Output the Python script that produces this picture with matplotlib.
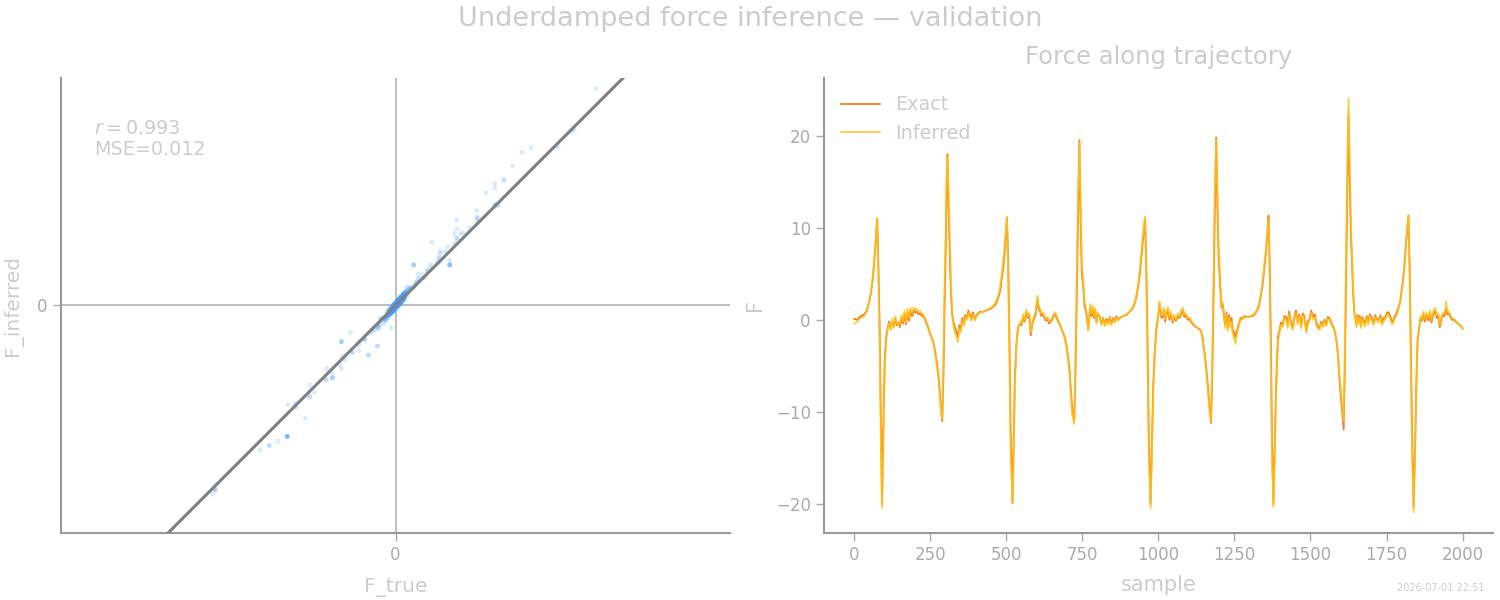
import matplotlib
matplotlib.use("Agg")
import matplotlib.pyplot as plt
import numpy as np

# ---------------- data ----------------
sample_idx = [
    0, 10, 20, 30, 40, 50, 55, 61, 66, 70,
    75, 79, 83, 87, 91, 95, 100, 105, 110, 114,
    120, 125, 130, 135, 140, 145, 150, 155, 160, 165,
    170, 175, 180, 185, 190, 195, 200, 205, 210, 215,
    220, 225, 230, 236, 242, 250, 259, 266, 272, 277,
    281, 285, 289, 293, 297, 300, 303, 306, 310, 314,
    318, 322,
    325, 330, 335, 341, 345, 350, 355, 360, 365, 370,
    375, 380, 385, 390, 396, 402, 408, 413, 418, 425,
    432, 440, 448, 456, 463, 470, 476, 481, 486, 490,
    494, 498, 502,
    506, 510, 514, 520, 524, 528, 533, 537, 540, 545,
    550, 555, 560, 566, 570, 575, 580, 585, 590, 596,
    602, 606, 610, 615, 620, 625, 630, 635, 640, 645,
    650, 655, 661, 665, 670, 675, 680, 686, 692, 698,
    703, 708, 712, 716, 723, 727, 731, 735, 740,
    744, 748, 752, 757, 761, 765, 769, 773, 776, 780,
    784, 788, 792, 796, 800, 807, 812, 818, 824, 829,
    835, 840, 845, 851, 856, 862, 867, 873, 878, 884,
    890, 895, 900, 906, 912, 917, 922, 927, 933, 938,
    944, 950, 956,
    960, 964, 968, 974, 978, 983, 988, 993, 999, 1003,
    1007, 1010, 1014, 1018, 1022, 1026, 1031, 1036, 1041, 1047,
    1052, 1058, 1064, 1070, 1075, 1080, 1085, 1090, 1096, 1102,
    1108, 1114, 1119, 1124, 1130, 1135, 1140, 1145, 1151, 1156,
    1162, 1167, 1173, 1177, 1181, 1185, 1190,
    1194, 1198, 1201, 1205, 1208, 1212, 1216, 1220, 1224, 1228,
    1232, 1236, 1240, 1244, 1249, 1253, 1258, 1262, 1266, 1270,
    1275, 1280, 1286, 1292, 1298, 1304, 1310, 1316, 1322, 1329,
    1336, 1343, 1348, 1354, 1358, 1362,
    1366, 1370, 1373, 1378, 1382, 1387, 1393, 1398, 1403, 1409,
    1414, 1420, 1425, 1430, 1436, 1442, 1447, 1452, 1458, 1463,
    1469, 1475, 1480, 1486, 1491, 1497, 1502, 1508, 1514, 1519,
    1525, 1530, 1535, 1541, 1546, 1552, 1557, 1562, 1567, 1572,
    1576, 1582, 1587, 1591, 1594, 1598, 1603, 1609, 1613, 1617,
    1621, 1625,
    1629, 1633, 1636, 1640, 1644, 1647, 1651, 1655, 1658, 1662,
    1666, 1670, 1675, 1680, 1685, 1690, 1695, 1702, 1708, 1713,
    1718, 1724, 1730, 1735, 1741, 1746, 1752, 1757, 1762, 1768,
    1773, 1778, 1784, 1789, 1795, 1800, 1806, 1811, 1816, 1822,
    1826, 1830, 1834, 1839, 1843, 1848, 1852, 1857, 1862, 1866,
    1871, 1876, 1881, 1888, 1893, 1898, 1904, 1910, 1915, 1920,
    1925, 1931, 1936, 1941, 1946, 1950, 1955, 1960, 1965, 1972,
    1980, 1988, 1995, 2000,
]

f_exact = [
    0.1, 0.0, 0.4, 0.5, 0.9, 2.1, 3.0, 4.6, 6.5, 8.2,
    11.0, 6.0, -0.5, -10.0, -20.0, -12.0, -4.1, -1.8, -0.8, -0.2,
    -0.9, -0.2, -0.7, 0.1, -0.6, -0.3, -0.8, 0.2, -0.4, 0.6,
    -0.5, 0.8, -0.1, 0.9, 0.4, 1.0, 0.8, 0.9, 0.6, 0.7,
    0.5, 0.4, 0.2, -0.3, -0.8, -1.6, -2.3, -3.5, -4.8, -6.2,
    -7.7, -9.5, -11.0, -6.0, 2.0, 6.8, 13.0, 18.0, 12.0, 6.8,
    2.5, 0.5,
    -0.1, -0.8, -1.2, -1.9, -0.6, -1.0, 0.2, -0.4, 0.5, 0.2,
    1.0, 0.6, 0.1, 0.8, 0.1, 0.5, 0.7, 0.9, 0.8, 0.9,
    1.0, 1.1, 1.2, 1.4, 1.6, 2.1, 2.7, 3.5, 4.8, 5.8,
    7.2, 9.0, 11.0,
    6.0, -2.0, -12.0, -19.9, -13.0, -6.0, -2.6, -1.2, -0.7, -0.4,
    -0.6, 0.3, -0.2, 0.8, 0.2, 0.5, -1.7, -0.5, 0.0, 0.6,
    2.3, 1.2, 1.0, 0.4, 0.6, 0.2, -0.1, 0.1, -0.4, -0.2,
    0.0, 0.4, 0.6, 0.2, -0.2, -0.5, -0.9, -1.4, -1.9, -2.9,
    -4.1, -5.6, -7.7, -9.5, -11.0, -6.0, 2.0, 10.0, 19.5,
    11.0, 4.9, 3.9, 1.5, 1.0, 0.2, -1.0, 0.3, 1.3, 0.4,
    1.1, 0.2, 1.0, -0.2, 0.6, 0.3, -0.4, 0.2, -0.5, 0.1,
    -0.3, 0.3, -0.4, 0.2, -0.2, 0.4, 0.0, 0.2, 0.3, 0.4,
    0.5, 0.5, 0.7, 0.9, 1.1, 1.4, 1.8, 2.4, 3.5, 4.8,
    6.8, 9.0, 11.0,
    6.0, -2.0, -12.0, -20.0, -14.0, -7.0, -3.4, -1.0, 0.3, 1.7,
    0.8, 0.2, 0.3, 0.9, -0.2, 0.6, 1.0, 0.0, 0.6, -0.3,
    0.2, -0.1, 0.4, 0.2, 0.7, 1.0, 0.3, 0.5, 0.0, 0.1,
    -0.3, -0.5, -0.7, -0.8, -0.9, -1.0, -1.2, -2.0, -3.4, -4.8,
    -7.0, -9.0, -11.2, -6.0, 2.0, 11.0, 19.8,
    12.0, 6.5, 5.0, 2.5, 1.3, 1.6, 0.2, -0.5, 0.8, -0.8,
    0.5, -0.3, 0.2, -1.0, -1.4, -1.9, -1.2, -0.7, -0.3, 0.2,
    0.1, 0.3, 0.4, 0.3, 0.3, 0.4, 0.4, 0.6, 0.9, 1.3,
    2.4, 3.9, 5.5, 7.5, 9.2, 11.3,
    6.0, -3.0, -12.0, -20.0, -14.0, -7.0, -1.9, -1.2, -0.3, -0.5,
    0.4, 0.3, -0.5, 0.9, -0.3, -0.8, 0.3, 1.0, -0.2, 0.6,
    -0.6, 0.7, 0.3, -1.2, -0.2, 0.1, 1.0, 0.3, 0.6, -0.3,
    -0.8, -0.9, -0.2, -0.6, 0.0, -0.5, 0.3, 0.2, -0.2, -0.6,
    -0.8, -1.6, -2.6, -4.0, -5.9, -7.6, -9.5, -11.9, -5.0, 4.0,
    14.0, 22.2,
    15.0, 9.0, 6.8, 3.0, 0.8, 0.3, -0.5, 0.5, -0.2, 0.4,
    -0.6, 0.3, -0.1, -0.4, 0.4, -0.2, 0.6, 0.2, -0.3, 0.5,
    0.1, 0.0, 0.5, -0.3, 0.2, 0.3, 0.8, 0.8, 0.4, -0.2,
    0.0, 0.4, 0.8, 1.3, 2.0, 3.2, 4.8, 6.8, 9.0, 11.3,
    6.0, -3.0, -12.0, -20.3, -15.0, -7.0, -2.3, -1.0, 0.2, -0.1,
    0.6, -0.2, 0.5, -0.1, 0.7, -0.3, 0.6, 1.0, 0.2, 0.4,
    -0.8, 0.1, 0.5, 0.4, 1.2, 0.6, 0.7, 0.3, 0.0, 0.0,
    -0.3, -0.5, -0.7, -0.9,
]

f_inferred = [
    -0.4, -0.2, 0.2, 0.3, 0.8, 2.2, 3.1, 4.8, 6.8, 8.6,
    11.0, 5.0, -2.5, -12.5, -20.4, -14.5, -5.0, -2.2, -1.0, -0.4,
    -1.1, 0.1, -0.9, 0.4, -0.4, -0.6, -0.5, 0.5, -0.2, 1.0,
    -0.3, 1.2, 0.2, 1.3, 0.7, 1.3, 1.1, 1.2, 0.9, 1.0,
    0.8, 0.6, 0.4, -0.1, -0.7, -1.5, -2.4, -3.7, -5.2, -6.6,
    -8.2, -10.0, -10.8, -4.0, 4.5, 9.5, 15.5, 17.6, 13.8, 8.5,
    3.5, 0.8,
    -0.5, -1.3, -1.8, -2.4, -0.9, -1.4, 0.0, -0.7, 0.3, 0.0,
    0.8, 0.3, -0.1, 0.5, -0.1, 0.4, 0.6, 0.8, 0.8, 0.9,
    1.0, 1.1, 1.3, 1.5, 1.8, 2.3, 3.0, 4.0, 5.4, 6.5,
    8.0, 9.8, 11.2,
    4.5, -4.5, -14.5, -19.8, -15.0, -7.0, -2.9, -1.4, -0.9, -0.2,
    -0.4, 0.6, 0.0, 1.1, 0.4, 0.7, -1.4, -0.3, 0.3, 0.9,
    2.6, 1.6, 1.3, 0.7, 0.8, 0.4, 0.1, 0.3, -0.2, 0.0,
    0.2, 0.6, 0.8, 0.4, 0.0, -0.4, -0.8, -1.4, -2.0, -3.1,
    -4.4, -6.0, -8.2, -10.2, -11.3, -4.0, 4.5, 12.5, 19.3,
    13.0, 6.0, 4.5, 2.0, 1.4, 0.5, -1.2, 0.6, 1.7, 0.7,
    1.5, 0.4, 1.3, -0.4, 0.8, 0.4, -0.6, 0.1, -0.7, -0.1,
    -0.5, 0.2, -0.6, 0.0, -0.3, 0.3, -0.1, 0.2, 0.3, 0.4,
    0.5, 0.5, 0.7, 0.9, 1.2, 1.5, 1.9, 2.6, 3.8, 5.2,
    7.4, 9.6, 11.2,
    4.5, -4.5, -14.5, -20.5, -15.5, -8.0, -3.8, -1.2, 0.1, 2.0,
    1.2, 0.5, 0.6, 1.3, 0.1, 0.9, 1.4, 0.3, 0.9, -0.1,
    0.5, 0.1, 0.7, 0.4, 1.0, 1.3, 0.6, 0.7, 0.2, 0.3,
    -0.1, -0.4, -0.6, -0.8, -0.9, -1.1, -1.3, -2.2, -3.7, -5.2,
    -7.5, -9.6, -11.0, -4.0, 4.5, 13.5, 19.5,
    14.0, 8.0, 5.8, 3.0, 1.6, 1.9, 0.0, -0.9, 0.6, -1.2,
    0.2, -0.8, -0.2, -1.6, -2.0, -2.6, -1.6, -1.0, -0.5, 0.0,
    0.0, 0.2, 0.3, 0.3, 0.3, 0.4, 0.5, 0.7, 1.0, 1.5,
    2.6, 4.2, 6.0, 8.0, 9.6, 11.1,
    4.5, -5.5, -14.5, -20.3, -15.5, -8.0, -2.4, -1.5, -0.6, -0.8,
    0.2, 0.0, -0.9, 0.6, -0.6, -1.1, 0.0, 0.7, -0.5, 0.4,
    -0.9, 0.5, 0.0, -1.4, -0.5, -0.1, 0.8, 0.0, 0.3, -0.6,
    -1.0, -1.1, -0.4, -0.8, -0.2, -0.7, 0.1, 0.0, -0.4, -0.7,
    -0.9, -1.7, -2.7, -4.0, -5.6, -7.0, -8.8, -11.0, -3.0, 7.0,
    17.0, 24.0,
    17.5, 10.5, 7.5, 3.5, 1.0, 0.2, -0.8, 0.3, -0.5, 0.2,
    -0.9, 0.1, -0.4, -0.7, 0.2, -0.5, 0.4, -0.1, -0.6, 0.3,
    -0.2, -0.3, 0.3, -0.6, -0.1, 0.0, 0.6, 0.5, 0.1, -0.5,
    -0.3, 0.2, 0.6, 1.1, 1.9, 3.1, 4.8, 6.9, 9.2, 11.2,
    4.5, -5.5, -14.5, -20.9, -16.0, -8.0, -2.7, -1.2, 0.4, 0.1,
    0.9, 0.1, 0.8, 0.2, 1.0, 0.0, 0.9, 1.3, 0.5, 0.7,
    -0.5, 0.4, 0.8, 0.7, 2.0, 0.9, 0.9, 0.5, 0.2, 0.1,
    -0.2, -0.5, -0.7, -1.0,
]

stat_r = "0.993"
stat_mse = "0.012"
x_ticks_traj = [0, 250, 500, 750, 1000, 1250, 1500, 1750, 2000]
y_ticks_traj = [-20, -10, 0, 10, 20]

# ---------------- styling ----------------
TXT = "#cccccc"
TICK = "#aaaaaa"
SPINE = "#999999"
C_EXACT = "#f77f1a"
C_INF = "#ffc21a"
C_SCAT = "#3d9bff"

fig = plt.figure(figsize=(15, 6), dpi=100)
fig.patch.set_facecolor("white")

ax1 = fig.add_axes([0.0407, 0.1117, 0.446, 0.7583])
ax2 = fig.add_axes([0.5493, 0.1117, 0.446, 0.7583])

for ax in (ax1, ax2):
    for s in ("top", "right"):
        ax.spines[s].set_visible(False)
    for s in ("left", "bottom"):
        ax.spines[s].set_color(SPINE)
        ax.spines[s].set_linewidth(1.5)
    ax.tick_params(colors=TICK, labelcolor=TICK, labelsize=12, length=6, width=1)

# ---- left: scatter ----
ft = np.array(f_exact)
fi = np.array(f_inferred)
M = 1.05 * max(np.abs(ft).max(), np.abs(fi).max())
ax1.axhline(0, color="#b3b3b3", lw=1.2, zorder=1)
ax1.axvline(0, color="#b3b3b3", lw=1.2, zorder=1)
ax1.scatter(ft, fi, s=12, color=C_SCAT, alpha=0.2, edgecolors="none", zorder=2)
ax1.set_xlim(-M, M)
ax1.set_ylim(-M, M)
ax1.set_aspect("equal", adjustable="datalim")
ax1.axline((0, 0), (1, 1), color="#808080", lw=2.2, zorder=3)
ax1.set_xticks([0])
ax1.set_yticks([0])
ax1.set_xlabel("F_true", color=TXT, fontsize=14.5, labelpad=10)
ax1.set_ylabel("F_inferred", color=TXT, fontsize=14.5, labelpad=10)
ax1.text(0.05, 0.91, f"$r = {stat_r}$\nMSE={stat_mse}", transform=ax1.transAxes,
         ha="left", va="top", fontsize=13.8, color=TXT, linespacing=1.15)

# ---- right: trajectory ----
ax2.plot(sample_idx, f_exact, color=C_EXACT, lw=1.3, label="Exact", zorder=2)
ax2.plot(sample_idx, f_inferred, color=C_INF, lw=1.3, alpha=0.85, label="Inferred", zorder=3)
ax2.set_xticks(x_ticks_traj)
ax2.set_yticks(y_ticks_traj)
ax2.set_xlabel("sample", color=TXT, fontsize=15, labelpad=8)
ax2.set_ylabel("F", color=TXT, fontsize=15, labelpad=8)
ax2.set_title("Force along trajectory", color=TXT, fontsize=17.5, pad=10)
leg = ax2.legend(loc="upper left", frameon=False, fontsize=13.8, handlelength=2.0,
                 borderaxespad=0.5)
for t in leg.get_texts():
    t.set_color(TXT)

fig.suptitle("Underdamped force inference — validation", color=TXT, fontsize=19.5, y=0.99)
fig.text(0.99, 0.012, "2026-07-01 22:51", ha="right", va="bottom", fontsize=7, color=TXT)

fig.savefig("out.png", dpi=100, facecolor="white")
